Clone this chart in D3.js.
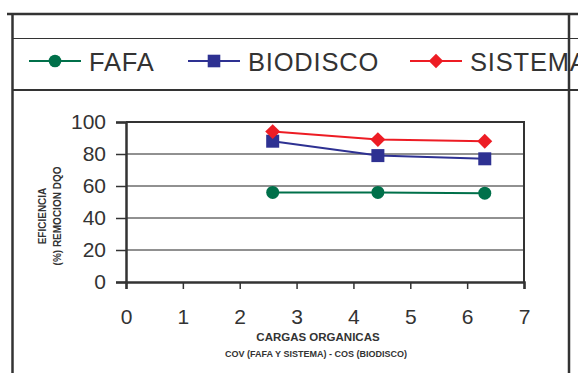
<!DOCTYPE html>
<html>
<head>
<meta charset="utf-8">
<script src="https://cdn.jsdelivr.net/npm/d3@7"></script>
<style>
html,body{margin:0;padding:0;background:#fff;}
svg{display:block;}
</style>
</head>
<body>
<svg id="chart" width="578" height="373"></svg>
<script>
const seriesNames = ["FAFA", "BIODISCO", "SISTEMA"];
const cargas = [2.58, 4.43, 6.31];
const fafa = [56, 56, 55.5];
const biodisco = [88, 79, 77];
const sistema = [94, 89, 88];
const yTicks = [0, 20, 40, 60, 80, 100];
const xTicks = [0, 1, 2, 3, 4, 5, 6, 7];
const xTitle = "CARGAS ORGANICAS";
const xSubtitle = "COV (FAFA Y SISTEMA) - COS (BIODISCO)";
const yTitle1 = "EFICIENCIA";
const yTitle2 = "(%) REMOCION DQO";

const colors = ["#00704a", "#2e3192", "#ed1c24"];
const txt = "#333";
const font = "'Liberation Sans', Arial, sans-serif";

// marker path generators (r = half extent)
function marker(i, r) {
  if (i === 0) return d3.symbol().type(d3.symbolCircle).size(Math.PI * r * r)();
  if (i === 1) return `M${-r},${-r}H${r}V${r}H${-r}Z`;
  const s = r * 1.15;
  return `M0,${-s}L${s},0L0,${s}L${-s},0Z`;
}

const svg = d3.select("#chart");

// outer frame
const frame = svg.append("g").attr("stroke", "#333").attr("fill", "none");
frame.append("line").attr("x1", 7).attr("x2", 578).attr("y1", 14).attr("y2", 14).attr("stroke-width", 2.5);
frame.append("line").attr("x1", 12.5).attr("x2", 12.5).attr("y1", 13).attr("y2", 373).attr("stroke-width", 2.5);
frame.append("line").attr("x1", 13).attr("x2", 578).attr("y1", 38.5).attr("y2", 38.5).attr("stroke-width", 1);
frame.append("line").attr("x1", 13).attr("x2", 578).attr("y1", 90).attr("y2", 90).attr("stroke-width", 2);

// legend
const legX = [29, 188, 410];
const legend = svg.append("g");
seriesNames.forEach((name, i) => {
  const g = legend.append("g").attr("transform", `translate(${legX[i]},61)`);
  g.append("line").attr("x1", 0).attr("x2", 52).attr("y1", 0).attr("y2", 0)
    .attr("stroke", colors[i]).attr("stroke-width", 2);
  g.append("path").attr("d", marker(i, 6.3))
    .attr("transform", "translate(26,0)").attr("fill", colors[i]);
  g.append("text").attr("x", 60).attr("y", 9.5).text(name)
    .attr("font-family", font).attr("font-size", 25.5).attr("fill", txt).attr("letter-spacing", 0.8);
});

// right frame line (drawn over legend text)
frame.append("line").attr("x1", 569).attr("x2", 569).attr("y1", 13).attr("y2", 373).attr("stroke-width", 2.5);
frame.raise();

// plot
const x = d3.scaleLinear().domain([0, 7]).range([126, 524]);
const y = d3.scaleLinear().domain([0, 100]).range([282, 122]);

// grid
svg.append("g").selectAll("line").data(yTicks.filter(v => v > 0 && v < 100)).join("line")
  .attr("x1", x(0)).attr("x2", x(7)).attr("y1", d => y(d)).attr("y2", d => y(d))
  .attr("stroke", "#222").attr("stroke-width", 1);

// plot border top & right
svg.append("path").attr("d", `M${x(0)},${y(100)}H${x(7)}V${y(0)}`)
  .attr("fill", "none").attr("stroke", "#333").attr("stroke-width", 2);

const yAxis = svg.append("g").attr("transform", `translate(${x(0)},0)`)
  .call(d3.axisLeft(y).tickValues(yTicks).tickSize(10).tickPadding(10).tickFormat(d3.format("d")));
yAxis.select(".domain").attr("stroke", "#333").attr("stroke-width", 2.5);
yAxis.selectAll(".tick line").attr("stroke", "#333").attr("stroke-width", 1.5);
yAxis.selectAll("text").attr("font-family", font).attr("font-size", 21).attr("fill", txt);

const xAxis = svg.append("g").attr("transform", `translate(0,${y(0)})`)
  .call(d3.axisBottom(x).tickValues(xTicks).tickSize(7).tickPadding(20).tickFormat(d3.format("d")));
xAxis.select(".domain").attr("stroke", "#333").attr("stroke-width", 2.5);
xAxis.selectAll(".tick line").attr("stroke", "#333").attr("stroke-width", 1.5);
xAxis.selectAll("text").attr("font-family", font).attr("font-size", 21).attr("fill", txt);

// series
const line = d3.line().x((d, j) => x(cargas[j])).y(d => y(d));
allValues = [fafa, biodisco, sistema];
allValues.forEach((vals, i) => {
  svg.append("path").datum(vals).attr("d", line).attr("fill", "none")
    .attr("stroke", colors[i]).attr("stroke-width", 2);
  svg.append("g").selectAll("path").data(vals).join("path")
    .attr("d", marker(i, 6.5))
    .attr("transform", (d, j) => `translate(${x(cargas[j])},${y(d)})`)
    .attr("fill", colors[i]);
});

// axis titles
svg.append("text").attr("x", 318).attr("y", 341).attr("text-anchor", "middle")
  .attr("font-family", font).attr("font-weight", "bold").attr("font-size", 11.5).attr("fill", txt).text(xTitle);
svg.append("text").attr("x", 316).attr("y", 357).attr("text-anchor", "middle")
  .attr("font-family", font).attr("font-weight", "bold").attr("font-size", 9).attr("fill", txt).text(xSubtitle);

const yt = svg.append("g").attr("transform", "translate(0,216) rotate(-90)");
yt.append("text").attr("x", 0).attr("y", 46).attr("text-anchor", "middle")
  .attr("font-family", font).attr("font-weight", "bold").attr("font-size", 10).attr("fill", txt).text(yTitle1);
yt.append("text").attr("x", 0).attr("y", 61).attr("text-anchor", "middle")
  .attr("font-family", font).attr("font-weight", "bold").attr("font-size", 10).attr("fill", txt).text(yTitle2);
</script>
</body>
</html>
